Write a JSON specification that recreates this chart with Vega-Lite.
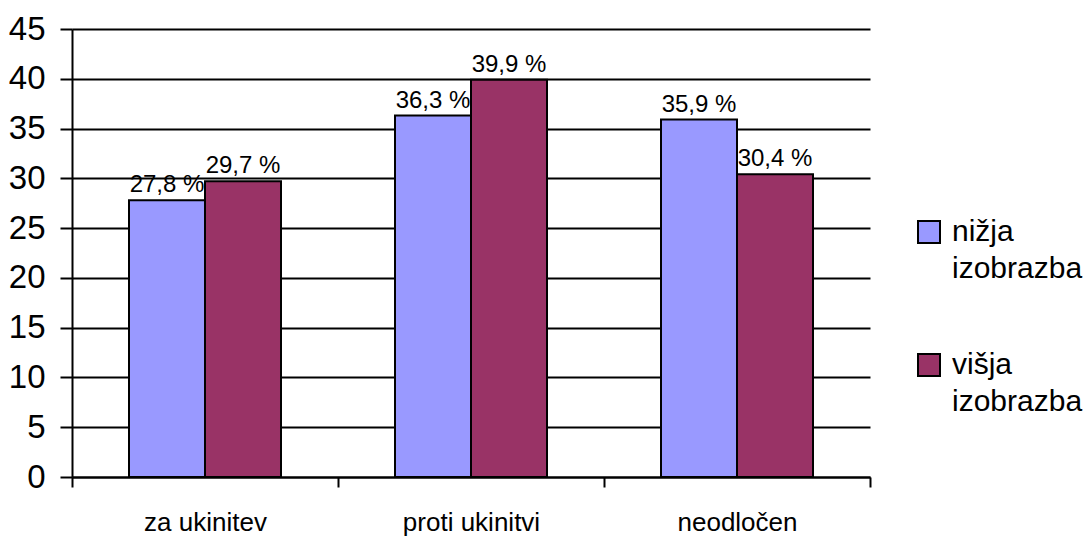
{
  "$schema": "https://vega.github.io/schema/vega-lite/v6.json",
  "width": 798,
  "height": 448,
  "autosize": {"type": "none"},
  "padding": {"left": 72, "top": 29, "right": 213, "bottom": 60},
  "background": "white",
  "data": {
    "values": [
      {"kat": "za ukinitev", "izobrazba": "nižja izobrazba", "delez": 27.8},
      {"kat": "za ukinitev", "izobrazba": "višja izobrazba", "delez": 29.7},
      {"kat": "proti ukinitvi", "izobrazba": "nižja izobrazba", "delez": 36.3},
      {"kat": "proti ukinitvi", "izobrazba": "višja izobrazba", "delez": 39.9},
      {"kat": "neodločen", "izobrazba": "nižja izobrazba", "delez": 35.9},
      {"kat": "neodločen", "izobrazba": "višja izobrazba", "delez": 30.4}
    ]
  },
  "transform": [
    {"calculate": "replace(format(datum.delez, '.1f'), '.', ',') + ' %'", "as": "oznaka"}
  ],
  "encoding": {
    "x": {
      "field": "kat",
      "type": "nominal",
      "sort": ["za ukinitev", "proti ukinitvi", "neodločen"],
      "scale": {"paddingInner": 0, "paddingOuter": 0},
      "axis": {
        "title": null,
        "labelAngle": 0,
        "tickBand": "extent",
        "domainColor": "black",
        "domainWidth": 2,
        "tickColor": "black",
        "tickWidth": 2,
        "tickSize": 10,
        "labelFontSize": 26,
        "labelPadding": 22,
        "labelColor": "black",
        "labelFont": "Liberation Sans"
      }
    },
    "xOffset": {
      "field": "izobrazba",
      "type": "nominal",
      "sort": ["nižja izobrazba", "višja izobrazba"],
      "scale": {"paddingInner": 0, "paddingOuter": 0.75}
    },
    "y": {
      "field": "delez",
      "type": "quantitative",
      "scale": {"domain": [0, 45], "nice": false},
      "axis": {
        "title": null,
        "values": [0, 5, 10, 15, 20, 25, 30, 35, 40, 45],
        "grid": true,
        "gridColor": "black",
        "gridWidth": 2,
        "gridOpacity": 1,
        "domainColor": "black",
        "domainWidth": 2,
        "tickColor": "black",
        "tickWidth": 2,
        "tickSize": 12,
        "labelFontSize": 33,
        "labelPadding": 15,
        "labelColor": "black",
        "labelFont": "Liberation Sans"
      }
    }
  },
  "layer": [
    {
      "mark": {"type": "bar", "stroke": "black", "strokeWidth": 2, "opacity": 1},
      "encoding": {
        "color": {
          "field": "izobrazba",
          "type": "nominal",
          "sort": ["nižja izobrazba", "višja izobrazba"],
          "scale": {"domain": ["nižja izobrazba", "višja izobrazba"], "range": ["#9999FF", "#993366"]},
          "legend": {
            "orient": "none",
            "legendX": 842,
            "legendY": 188,
            "title": null,
            "padding": 0,
            "labelFontSize": 30,
            "labelFont": "Liberation Sans",
            "labelColor": "black",
            "labelOffset": 8,
            "labelLimit": 400,
            "labelExpr": "split(datum.label, ' ')",
            "symbolType": "square",
            "symbolSize": 484,
            "symbolStrokeColor": "black",
            "symbolStrokeWidth": 2,
            "symbolOpacity": 1,
            "rowPadding": 66
          }
        }
      }
    },
    {
      "mark": {"type": "text", "baseline": "alphabetic", "dy": -8, "fontSize": 24, "font": "Liberation Sans", "color": "black"},
      "encoding": {"text": {"field": "oznaka"}}
    }
  ],
  "config": {
    "view": {"stroke": null},
    "font": "Liberation Sans",
    "style": {"guide-label": {"lineHeight": 37}}
  }
}
